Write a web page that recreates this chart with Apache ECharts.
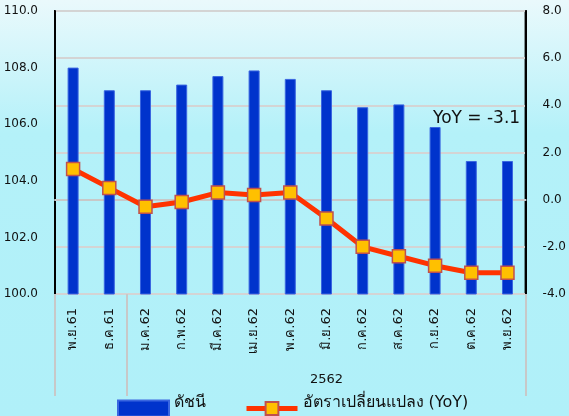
<!DOCTYPE html>
<html>
<head>
<meta charset="utf-8">
<script src="https://cdn.jsdelivr.net/npm/echarts@6/dist/echarts.min.js"></script>
<style>
  html, body { margin: 0; padding: 0; }
  #chart { width: 569px; height: 416px; }
</style>
</head>
<body>
<div id="chart"></div>
<script>
// months (Thai short form)
var categories = ['พ.ย.61', 'ธ.ค.61', 'ม.ค.62', 'ก.พ.62', 'มี.ค.62', 'เม.ย.62', 'พ.ค.62',
                  'มิ.ย.62', 'ก.ค.62', 'ส.ค.62', 'ก.ย.62', 'ต.ค.62', 'พ.ย.62'];
// index values (left axis)
var indexValues = [108.0, 107.2, 107.2, 107.4, 107.7, 107.9, 107.6, 107.2, 106.6, 106.7, 105.9, 104.7, 104.7];
// YoY change (right axis)
var yoyValues = [1.3, 0.5, -0.3, -0.1, 0.3, 0.2, 0.3, -0.8, -2.0, -2.4, -2.8, -3.1, -3.1];
// year group under the months: starts at this category and runs to the end
var groupLabel = '2562';
var groupStart = 2;
var yoyNote = 'YoY = -3.1';

var font = 'DejaVu Sans';
var chart = echarts.init(document.getElementById('chart'));

var option = {
  backgroundColor: {
    type: 'linear', x: 0, y: 0, x2: 0, y2: 1,
    colorStops: [
      { offset: 0, color: '#eaf9fc' },
      { offset: 0.32, color: '#b4f1f9' },
      { offset: 1, color: '#b0f0f9' }
    ]
  },
  animation: false,
  textStyle: { fontFamily: font },
  grid: {
    left: 55, right: 38, top: 11, bottom: 122,
    show: true, borderColor: '#000', borderWidth: 2, backgroundColor: 'transparent'
  },
  legend: {
    top: 390, left: 112,
    itemGap: 38,
    itemWidth: 51, itemHeight: 16,
    formatter: '{t|{name}}',
    textStyle: {
      fontFamily: font, fontSize: 16, color: '#111',
      rich: { t: { fontFamily: font, fontSize: 16, color: '#111', padding: [0, 0, 11, 0] } }
    },
    data: [
      { name: 'ดัชนี', icon: 'rect' },
      { name: 'อัตราเปลี่ยนแปลง (YoY)', lineStyle: { width: 5, color: '#ff3300' } }
    ]
  },
  xAxis: {
    type: 'category',
    data: categories,
    axisLine: { lineStyle: { color: '#c8c8c8', width: 2 } },
    axisTick: { show: false },
    axisLabel: {
      interval: 0, rotate: 90, margin: 14,
      fontFamily: font, fontSize: 13, color: '#111'
    }
  },
  yAxis: [{
    type: 'value', min: 100, max: 110, interval: 2,
    axisLine: { show: true, lineStyle: { color: '#000', width: 2 } },
    axisTick: { show: false },
    splitLine: { show: false },
    axisLabel: {
      margin: 17, fontFamily: font, fontSize: 12, color: '#111',
      formatter: function (v) { return v.toFixed(1); }
    }
  }, {
    type: 'value', min: -4, max: 8, interval: 2,
    axisLine: { show: true, lineStyle: { color: '#000', width: 2 } },
    axisTick: { show: false },
    splitLine: { show: true, lineStyle: { color: '#d4d4d4', width: 2 } },
    axisLabel: {
      margin: 17, fontFamily: font, fontSize: 12, color: '#111',
      formatter: function (v) { return v.toFixed(1); }
    }
  }],
  series: [{
    name: 'ดัชนี',
    type: 'bar',
    yAxisIndex: 0,
    barWidth: 11,
    data: indexValues,
    itemStyle: { color: '#0033cc', borderColor: '#3a66e0', borderWidth: 1 }
  }, {
    name: 'อัตราเปลี่ยนแปลง (YoY)',
    type: 'line',
    yAxisIndex: 1,
    data: yoyValues,
    symbol: 'rect',
    symbolSize: 13,
    lineStyle: { color: '#ff3300', width: 5 },
    itemStyle: { color: '#ffc000', borderColor: '#c0504d', borderWidth: 1.5 },
    z: 3
  }]
};

chart.setOption(option);

// group separators and year label, placed from the category axis
var c0 = chart.convertToPixel({ xAxisIndex: 0 }, 0);
var band = chart.convertToPixel({ xAxisIndex: 0 }, 1) - c0;
var axisY = chart.convertToPixel({ yAxisIndex: 0 }, 100);
function edge(i) { return c0 - band / 2 + i * band; }
var graphics = [0, groupStart, categories.length].map(function (i) {
  return {
    type: 'line', z: 10,
    shape: { x1: Math.round(edge(i)), y1: axisY, x2: Math.round(edge(i)), y2: axisY + 102 },
    style: { stroke: '#c8c8c8', lineWidth: 2 }
  };
});
graphics.push({
  type: 'text', z: 10,
  x: (edge(groupStart) + edge(categories.length)) / 2, y: axisY + 86,
  style: { text: groupLabel, fontFamily: font, fontSize: 13, fill: '#111', align: 'center', verticalAlign: 'middle' }
});
graphics.push({
  type: 'text', z: 10,
  x: 433, y: 110,
  style: { text: yoyNote, fontFamily: font, fontSize: 17, fill: '#111' }
});
chart.setOption({ graphic: graphics });
</script>
</body>
</html>
